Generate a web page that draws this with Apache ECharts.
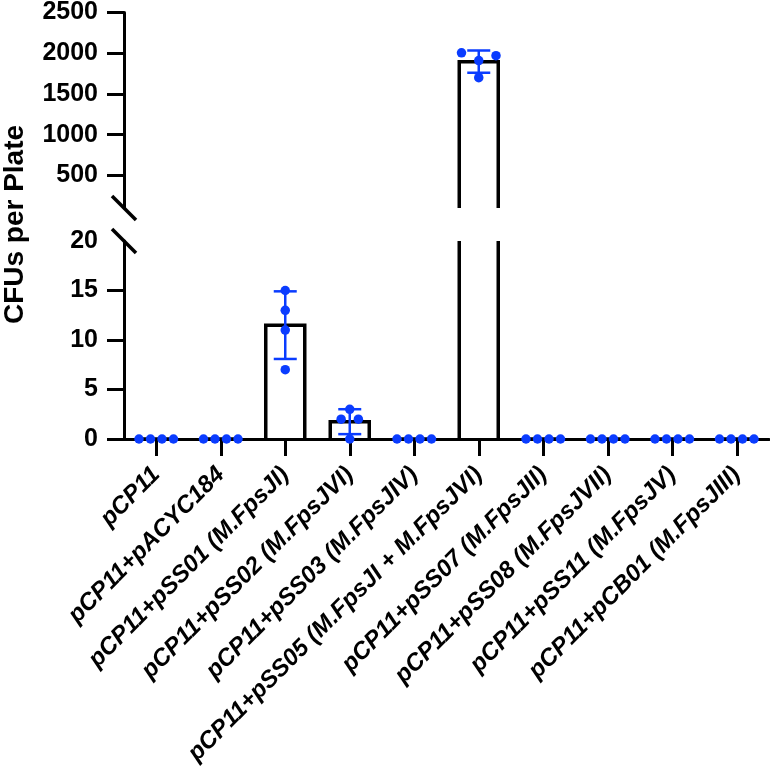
<!DOCTYPE html>
<html>
<head>
<meta charset="utf-8">
<script src="https://cdn.jsdelivr.net/npm/echarts@6/dist/echarts.min.js"></script>
<style>html,body{margin:0;padding:0;background:#fff}#c{width:770px;height:770px}</style>
</head>
<body>
<div id="c"></div>
<script>
// ---- data ----
var categories = ['pCP11','pCP11+pACYC184','pCP11+pSS01 (M.FpsJI)','pCP11+pSS02 (M.FpsJVI)','pCP11+pSS03 (M.FpsJIV)','pCP11+pSS05 (M.FpsJI + M.FpsJVI)','pCP11+pSS07 (M.FpsJII)','pCP11+pSS08 (M.FpsJVII)','pCP11+pSS11 (M.FpsJV)','pCP11+pCB01 (M.FpsJIII)'];
var rep1 = [0, 0, 15, 3, 0, 2005, 0, 0, 0, 0];
var rep2 = [0, 0, 13, 2, 0, 1970, 0, 0, 0, 0];
var rep3 = [0, 0, 11, 2, 0, 1910, 0, 0, 0, 0];
var rep4 = [0, 0, 7, 0, 0, 1700, 0, 0, 0, 0];
var lowerTicks = [0, 5, 10, 15, 20];
var upperTicks = [500, 1000, 1500, 2000, 2500];
// horizontal dot spread (slot index per replicate, per category)
var spread1 = [-1.5, -1.5, 0, 0, -1.5, -1.5, -1.5, -1.5, -1.5, -1.5];
var spread2 = [-0.5, -0.5, 0, -0.75, -0.5, 1.5, -0.5, -0.5, -0.5, -0.5];
var spread3 = [0.5, 0.5, 0, 0.75, 0.5, 0, 0.5, 0.5, 0.5, 0.5];
var spread4 = [1.5, 1.5, 0, 0, 1.5, 0, 1.5, 1.5, 1.5, 1.5];

// ---- derived ----
var reps = [rep1, rep2, rep3, rep4];
var spreads = [spread1, spread2, spread3, spread4];
var means = [], sds = [];
for (var i = 0; i < categories.length; i++) {
  var vals = reps.map(function (r) { return r[i]; });
  var m = vals.reduce(function (a, b) { return a + b; }, 0) / vals.length;
  var ss = vals.reduce(function (a, b) { return a + (b - m) * (b - m); }, 0);
  means.push(m);
  sds.push(Math.sqrt(ss / (vals.length - 1)));
}
var barData = means.map(function (m, i) { return [i, m]; });
var dots = [];
reps.forEach(function (r, k) {
  r.forEach(function (v, i) {
    dots.push({ value: [i, v], symbolOffset: [spreads[k][i] * 11.5, 0] });
  });
});
var errData = [];
for (var j = 0; j < categories.length; j++) {
  if (sds[j] > 0) errData.push([j, means[j] - sds[j], means[j] + sds[j]]);
}

var BLUE = '#0a3cff';
var FONT = 'Liberation Sans, Arial, Helvetica, sans-serif';
var L = 124, W = 645;
var UP_TOP = 10, UP_H = 198;
var LO_TOP = 241, LO_H = 198;

function barRender(params, api) {
  var x = api.value(0);
  var top = api.coord([x, api.value(1)]);
  var base = api.coord([x, 0]);
  var hw = 19.5;
  return {
    type: 'polyline',
    shape: { points: [[top[0] - hw, base[1]], [top[0] - hw, top[1]], [top[0] + hw, top[1]], [top[0] + hw, base[1]]] },
    style: { stroke: '#000', lineWidth: 3.5, fill: null, lineJoin: 'miter' }
  };
}

function errRender(params, api) {
  var x = api.value(0);
  var lo = api.coord([x, api.value(1)]);
  var hi = api.coord([x, api.value(2)]);
  var cw = 11.5;
  var st = { stroke: BLUE, lineWidth: 2.5 };
  return {
    type: 'group',
    children: [
      { type: 'line', shape: { x1: lo[0], y1: lo[1], x2: hi[0], y2: hi[1] }, style: st },
      { type: 'line', shape: { x1: lo[0] - cw, y1: lo[1], x2: lo[0] + cw, y2: lo[1] }, style: st },
      { type: 'line', shape: { x1: hi[0] - cw, y1: hi[1], x2: hi[0] + cw, y2: hi[1] }, style: st }
    ]
  };
}

function plain(v) { return String(v); }

var axisLineStyle = { color: '#000', width: 3 };
var chart = echarts.init(document.getElementById('c'), null, { renderer: 'canvas' });
var option = {
  animation: false,
  backgroundColor: '#fff',
  grid: [
    { left: L, width: W, top: UP_TOP, height: UP_H },
    { left: L, width: W, top: LO_TOP, height: LO_H }
  ],
  xAxis: [
    { type: 'category', gridIndex: 0, data: categories, show: false },
    {
      type: 'category', gridIndex: 1, data: categories,
      axisLine: { show: true, lineStyle: axisLineStyle },
      axisTick: { show: true, interval: 0, alignWithLabel: true, length: 17, lineStyle: { color: '#000', width: 3 } },
      axisLabel: { interval: 0, rotate: 45, margin: 32, color: '#000', fontFamily: FONT, fontWeight: 'bold', fontStyle: 'italic', fontSize: 24 }
    }
  ],
  yAxis: [
    {
      type: 'value', gridIndex: 0, min: 100, max: 2500,
      splitLine: { show: false },
      axisLine: { show: true, lineStyle: axisLineStyle },
      axisTick: { show: true, length: 17, customValues: upperTicks, lineStyle: { color: '#000', width: 3 } },
      axisLabel: { customValues: upperTicks, formatter: plain, margin: 26, color: '#000', fontFamily: FONT, fontWeight: 'bold', fontSize: 25 }
    },
    {
      type: 'value', gridIndex: 1, min: 0, max: 20,
      splitLine: { show: false },
      axisLine: { show: true, lineStyle: axisLineStyle },
      axisTick: { show: true, length: 17, customValues: lowerTicks.slice(0, 4), lineStyle: { color: '#000', width: 3 } },
      axisLabel: { customValues: lowerTicks, formatter: plain, margin: 26, color: '#000', fontFamily: FONT, fontWeight: 'bold', fontSize: 25 }
    }
  ],
  series: [
    { type: 'custom', xAxisIndex: 0, yAxisIndex: 0, data: barData, renderItem: barRender, clip: true, z: 2 },
    { type: 'custom', xAxisIndex: 1, yAxisIndex: 1, data: barData, renderItem: barRender, clip: true, z: 2 },
    { type: 'custom', xAxisIndex: 0, yAxisIndex: 0, data: errData, renderItem: errRender, clip: true, z: 3 },
    { type: 'custom', xAxisIndex: 1, yAxisIndex: 1, data: errData, renderItem: errRender, clip: true, z: 3 },
    { type: 'scatter', xAxisIndex: 0, yAxisIndex: 0, data: dots, symbolSize: 9.5, clip: true, z: 4,
      itemStyle: { color: BLUE, opacity: 1 } },
    { type: 'scatter', xAxisIndex: 1, yAxisIndex: 1, data: dots, symbolSize: 9.5, clip: true, z: 4,
      itemStyle: { color: BLUE, opacity: 1 } }
  ],
  graphic: [
    { type: 'line', shape: { x1: L - 12, y1: UP_TOP + UP_H - 12, x2: L + 12, y2: UP_TOP + UP_H + 12 },
      style: { stroke: '#000', lineWidth: 3.5 }, z: 10 },
    { type: 'line', shape: { x1: L - 12, y1: LO_TOP - 12, x2: L + 12, y2: LO_TOP + 12 },
      style: { stroke: '#000', lineWidth: 3.5 }, z: 10 },
    { type: 'text', x: 15, y: (UP_TOP + LO_TOP + LO_H) / 2, rotation: Math.PI / 2,
      style: { text: 'CFUs per Plate', fontFamily: FONT, fontWeight: 'bold', fontSize: 28, fill: '#000',
        textAlign: 'center', textVerticalAlign: 'middle' } }
  ]
};
chart.setOption(option);
</script>
</body>
</html>
